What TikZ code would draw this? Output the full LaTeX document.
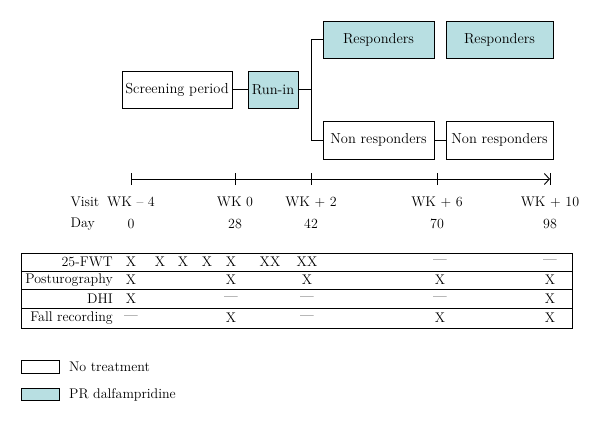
\documentclass[tikz,border=0pt]{standalone}
\usepackage{tikz}
\usetikzlibrary{arrows.meta}
\definecolor{drugcolor}{HTML}{B8DFE2}
\tikzset{
  plan box/.style={draw=black,line width=.9pt,inner sep=0pt,minimum height=37pt,font=\fontsize{14.5}{17}\selectfont},
  plan drug/.style={plan box,fill=drugcolor},
  plan link/.style={black,line width=.9pt},
  tl axis/.style={black,line width=.9pt,-{Straight Barb[length=5pt,width=11pt]}},
  tl tick/.style={black,line width=.9pt},
  tab rule/.style={black,line width=.9pt},
  tab entry/.style={inner sep=0pt,anchor=center},
  key box/.style={draw=black,line width=.9pt,inner sep=0pt,minimum width=38pt,minimum height=12.5pt}
}

\begin{document}
\begin{tikzpicture}[x=1pt,y=-1pt,font=\fontsize{14}{16}\selectfont]
  \useasboundingbox (0,0) rectangle (600,424);
  \node[plan box,minimum width=110pt] (screen) at (177,89.5) {Screening period};
  \node[plan drug,minimum width=50pt] (runin) at (273,89.5) {Run-in};
  \node[plan drug,minimum width=111pt] (resp1) at (378.5,39.5) {Responders};
  \node[plan drug,minimum width=107pt] (resp2) at (499.5,39.5) {Responders};
  \node[plan box,minimum width=111pt,minimum height=38pt] (nonresp1) at (378.5,140) {Non responders};
  \node[plan box,minimum width=107pt,minimum height=38pt] (nonresp2) at (499.5,140) {Non responders};
  \coordinate (fork) at (311,89.5);
  \draw[plan link] (screen) -- (runin);
  \draw[plan link] (runin) -- (fork);
  \draw[plan link] (fork) |- (resp1);
  \draw[plan link] (fork) |- (nonresp1);
  \draw[plan link] (nonresp1) -- (nonresp2);
  \foreach \x/\n in {131/wkA,235/wkB,311/wkC,437/wkD,550/wkE}{\coordinate (\n) at (\x,179);}
  \draw[tl axis] (wkA) -- (wkE);
  \foreach \n in {wkA,wkB,wkC,wkD,wkE}{\draw[tl tick] ([yshift=-6pt]\n) -- ([yshift=6pt]\n);}
  \node[anchor=west] (visit) at (67,202) {Visit};
  \node[anchor=west] (day) at (67,224) {Day};
  \foreach \x/\wk/\d in {131/{WK -- 4}/0,235/{WK 0}/28,311/{WK + 2}/42,437/{WK + 6}/70,550/{WK + 10}/98}{
    \node (wk\x) at (\x,202) {\wk};
    \node (day\x) at (\x,224) {\d};
  }
  \draw[tab rule] (21,253) rectangle (572,328);
  \foreach \y in {271,289.5,308}{\draw[tab rule] (21,\y) -- (572,\y);}
  \foreach \y/\lab in {262/{25-FWT},280/{Posturography},298.5/{DHI},318/{Fall recording}}{\node[anchor=east,inner sep=0pt] (row\y) at (113,\y) {\lab};}
  \foreach \x/\e in {131/X,160/X,183/X,207/X,231/X,270/XX,307/XX,440/---,550/---}{\node[tab entry] at (\x,262) {\e};}
  \foreach \x/\e in {131/X,231/X,307/X,440/X,550/X}{\node[tab entry] at (\x,280) {\e};}
  \foreach \x/\e in {131/X,231/---,307/---,440/---,550/X}{\node[tab entry] at (\x,298.5) {\e};}
  \foreach \x/\e in {131/---,231/X,307/---,440/X,550/X}{\node[tab entry] at (\x,318) {\e};}
  \node[key box] (keyoff) at (40,367) {};
  \node[key box,fill=drugcolor] (keyon) at (40,394.5) {};
  \node[anchor=west,inner sep=0pt] (keyofftext) at (69,367) {No treatment};
  \node[anchor=west,inner sep=0pt] (keyontext) at (69,394.5) {PR dalfampridine};
\end{tikzpicture}
\end{document}
